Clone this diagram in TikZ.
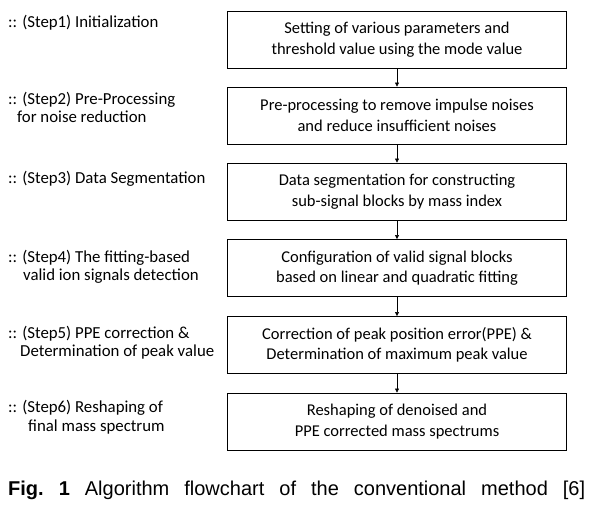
\documentclass[tikz,border=0pt]{standalone}
\usepackage{fontspec}
\setmainfont{Carlito}
\newfontfamily\capfont{Liberation Sans}
\usetikzlibrary{arrows.meta}
\begin{document}
\begin{tikzpicture}[x=1pt,y=-1pt,
  stepbox/.style={draw=black,line width=0.9pt,minimum width=339pt,minimum height=57pt,inner sep=0pt,align=center,font=\fontsize{16.5}{20.5}\selectfont},
  steplabel/.style={anchor=north west,inner sep=0pt,align=left,font=\fontsize{16.8}{18.5}\selectfont},
  flow/.style={line width=0.6pt,-{Triangle[length=4pt,width=4pt]}}]
\useasboundingbox (0,0) rectangle (593,515);
\node[stepbox] (b1) at (397,39.5) {Setting of various parameters and\\threshold value using the mode value};
\node[stepbox] (b2) at (397,115.5) {Pre-processing to remove impulse noises\\and reduce insufficient noises};
\node[stepbox] (b3) at (397,191.5) {Data segmentation for constructing\\sub-signal blocks by mass index};
\node[stepbox] (b4) at (397,268) {Configuration of valid signal blocks\\based on linear and quadratic fitting};
\node[stepbox] (b5) at (397,345) {Correction of peak position error(PPE) \&\\Determination of maximum peak value};
\node[stepbox] (b6) at (397,421.5) {Reshaping of denoised and\\PPE corrected mass spectrums};
\foreach \a/\b in {b1/b2,b2/b3,b3/b4,b4/b5,b5/b6} \draw[flow] (\a) -- (\b);
\node[steplabel] (l1) at (8,15) {:: (Step1) Initialization};
\node[steplabel] (l2) at (8,92) {:: (Step2) Pre-Processing\\\hspace*{9pt}for noise reduction};
\node[steplabel] (l3) at (8,171) {:: (Step3) Data Segmentation};
\node[steplabel] (l4) at (8,250) {:: (Step4) The fitting-based\\\hspace*{15pt}valid ion signals detection};
\node[steplabel] (l5) at (8,326) {:: (Step5) PPE correction \&\\\hspace*{12pt}Determination of peak value};
\node[steplabel] (l6) at (8,400) {:: (Step6) Reshaping of\\\hspace*{20pt}final mass spectrum};
\node[anchor=west,inner sep=0pt,font=\capfont\fontsize{20}{24}\selectfont] (cap) at (8,490) {\frenchspacing\makebox[577pt][s]{\textbf{Fig. 1} Algorithm flowchart of the conventional method [6]}};
\end{tikzpicture}
\end{document}
